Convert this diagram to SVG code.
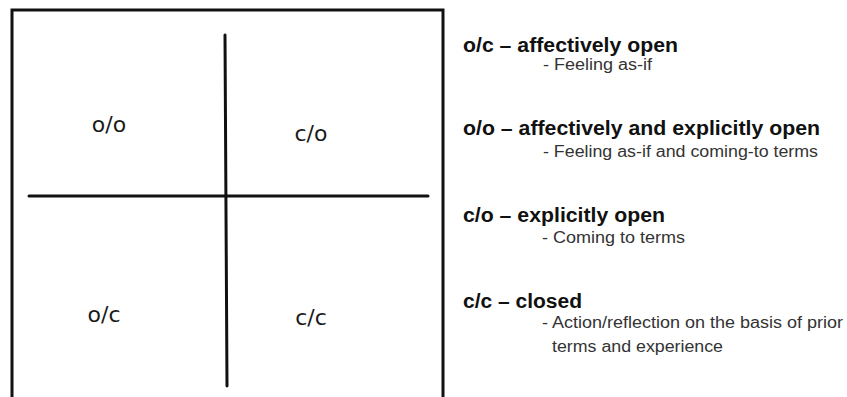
<svg xmlns="http://www.w3.org/2000/svg" width="847" height="397" viewBox="0 0 847 397">
<style>
.ln{stroke:#111;stroke-width:3;fill:none;stroke-linecap:round}
.q{font-family:"DejaVu Sans",sans-serif;font-size:22px;fill:#1a1a1a;text-anchor:middle}
.h{font-family:"Liberation Sans",Arial,sans-serif;font-size:20px;font-weight:bold;fill:#111}
.s{font-family:"Liberation Sans",Arial,sans-serif;font-size:16px;fill:#333}
</style>
<rect width="847" height="397" fill="#fff"/>
<g id="frame"><rect x="12" y="10" width="431" height="400" class="ln"/></g>
<g id="connectors">
<line x1="225" y1="35" x2="227" y2="386" class="ln"/>
<line x1="29" y1="196" x2="428" y2="196" class="ln"/>
</g>
<g id="q-oo"><text x="109" y="132" class="q">o/o</text></g>
<g id="q-co"><text x="311" y="141" class="q">c/o</text></g>
<g id="q-oc"><text x="104" y="322" class="q">o/c</text></g>
<g id="q-cc"><text x="311" y="325" class="q">c/c</text></g>
<g id="legend">
<text x="463" y="52" class="h" textLength="215" lengthAdjust="spacingAndGlyphs">o/c – affectively open</text>
<text x="543" y="70" class="s" textLength="109" lengthAdjust="spacingAndGlyphs">- Feeling as-if</text>
<text x="463" y="135" class="h" textLength="357" lengthAdjust="spacingAndGlyphs">o/o – affectively and explicitly open</text>
<text x="543" y="157" class="s" textLength="275" lengthAdjust="spacingAndGlyphs">- Feeling as-if and coming-to terms</text>
<text x="463" y="222" class="h" textLength="202" lengthAdjust="spacingAndGlyphs">c/o – explicitly open</text>
<text x="542" y="243" class="s" textLength="143" lengthAdjust="spacingAndGlyphs">- Coming to terms</text>
<text x="463" y="308" class="h" textLength="119" lengthAdjust="spacingAndGlyphs">c/c – closed</text>
<text x="542" y="328" class="s" textLength="301" lengthAdjust="spacingAndGlyphs">- Action/reflection on the basis of prior</text>
<text x="552" y="352" class="s" textLength="171" lengthAdjust="spacingAndGlyphs">terms and experience</text>
</g>
</svg>
